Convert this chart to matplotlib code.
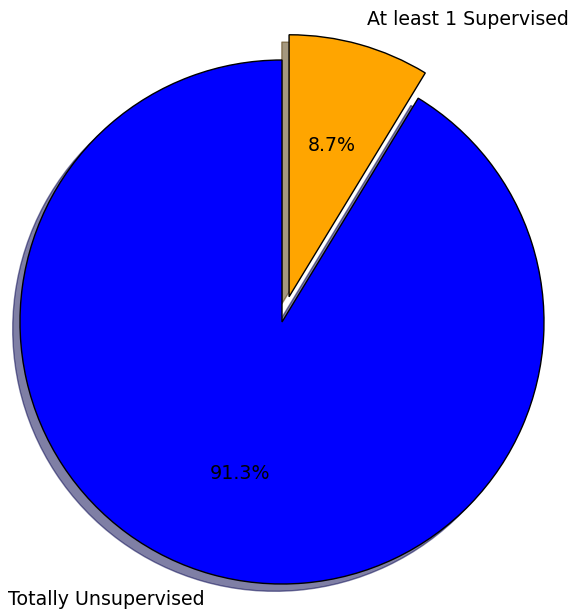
import matplotlib.pyplot as plt

# Data
labels = ["At least 1 Supervised", "Totally Unsupervised"]
shares = [8.7, 91.3]
colors = ["orange", "blue"]
explode = [0.1, 0]


def create_pie_chart():
    """Pie chart of supervised vs. unsupervised share."""
    fig = plt.figure(figsize=(5.71, 6.09), dpi=100)
    ax = fig.add_axes([0, 0, 1, 1])

    ax.pie(shares, labels=labels, colors=colors, explode=explode,
           autopct="%1.1f%%", startangle=90, counterclock=False,
           shadow=True, wedgeprops={"edgecolor": "black"},
           textprops={"fontsize": 13.7})

    # Place the pie inside the figure (center ~ (282, 322) px, radius ~ 262 px)
    r = 262.0
    cx, cy = 282.0, 609 - 322.0
    ax.set_xlim(-cx / r, (571 - cx) / r)
    ax.set_ylim(-cy / r, (609 - cy) / r)
    ax.set_aspect("auto")

    fig.savefig("out.png", dpi=100)


if __name__ == "__main__":
    create_pie_chart()
